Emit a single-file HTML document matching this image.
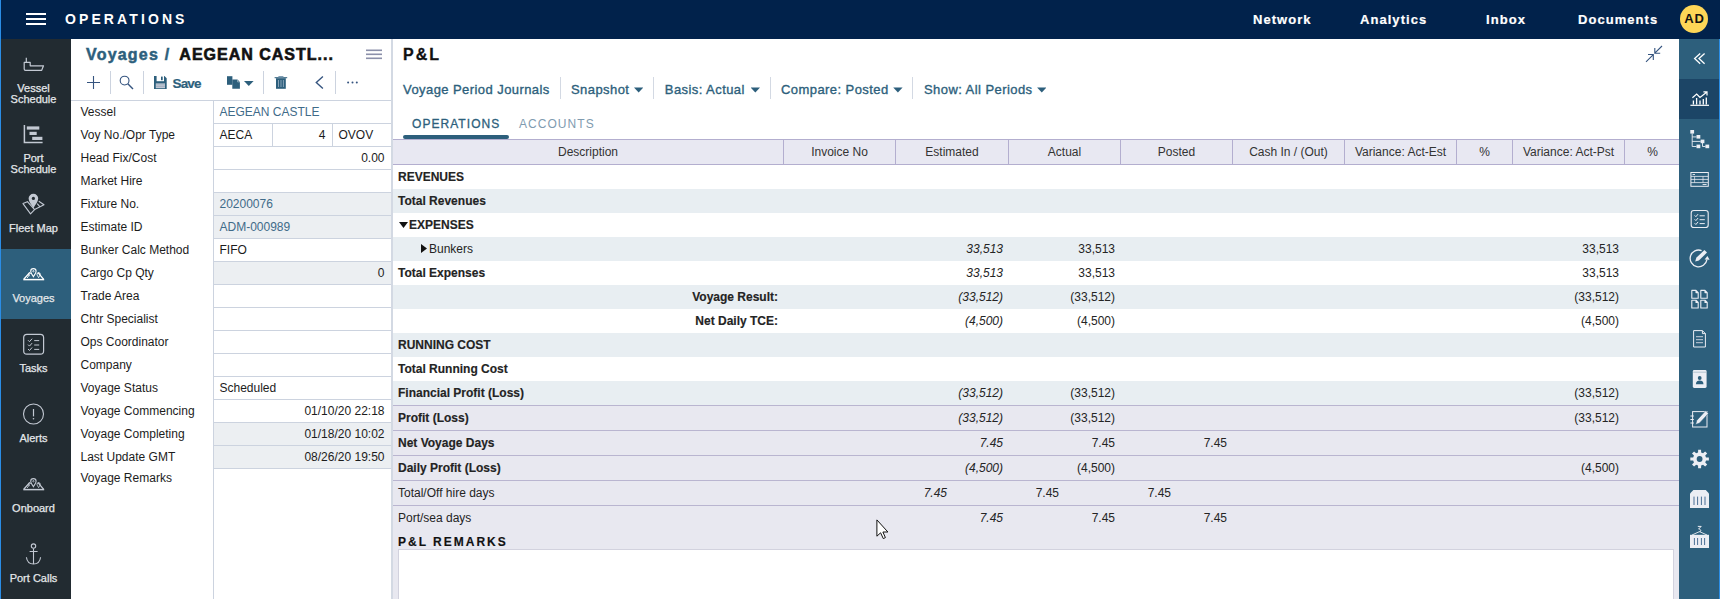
<!DOCTYPE html>
<html lang="en">
<head>
<meta charset="utf-8">
<title>Operations - Voyages</title>
<style>
*{box-sizing:border-box;margin:0;padding:0}
html,body{width:1720px;height:599px;overflow:hidden;background:#fff}
body{font-family:"Liberation Sans",Arial,sans-serif;font-size:12px;color:#1c1c1c;position:relative}
.abs{position:absolute}
/* header */
#hdr{position:absolute;left:0;top:0;width:1720px;height:39px;background:#01224b}
#edge{position:absolute;left:0;top:0;width:1px;height:599px;background:#2a8de6;z-index:5}
#burger i{position:absolute;left:26px;width:20px;height:2px;background:#fff}
#appname{position:absolute;left:65px;top:11px;font-size:14px;font-weight:bold;color:#fff;letter-spacing:3.1px;line-height:16px;white-space:nowrap}
.nav{position:absolute;top:11.5px;font-size:13px;font-weight:bold;color:#fff;letter-spacing:1.05px;-webkit-text-stroke:0.2px #fff;line-height:16px;white-space:nowrap}
#avatar{position:absolute;left:1680px;top:5px;width:28px;height:28px;border-radius:50%;background:#fdd657;color:#111;font-weight:bold;font-size:13px;letter-spacing:0.8px;text-align:center;line-height:28px;padding-left:1px}
/* left sidebar */
#side{position:absolute;left:1px;top:39px;width:70px;height:560px;background:#222b31}
.si{position:absolute;left:0;width:70px;height:70px;color:#e4e7ea;text-align:center;font-size:11px;line-height:11px}
.si.act{background:#2d5f7c}
.si span{position:absolute;left:-5px;width:75px;top:43.5px;z-index:3;display:block;-webkit-text-stroke:0.25px #e4e7ea}
/* left panel */
#lp{position:absolute;left:71px;top:39px;width:321px;height:560px;background:#fff}
#crumb{position:absolute;left:15px;top:6px;font-size:16px;font-weight:bold;line-height:20px;white-space:nowrap;color:#2d5f7c;letter-spacing:1.2px;-webkit-text-stroke:0.5px #2d5f7c}
#crumb b{color:#111;margin-left:9px;letter-spacing:1px;-webkit-text-stroke:0.6px #111}
.frow{position:absolute;left:0;width:321px;height:23px}
.frow label{position:absolute;left:9.5px;top:0;line-height:25px;font-size:12px;color:#1c1c1c;white-space:nowrap}
.fld{position:absolute;top:0;height:24px;border:1px solid #ccd3df;background:#fff;line-height:23px;font-size:12px;padding:0 6.5px 0 5.5px;white-space:nowrap;color:#1c1c1c;overflow:hidden}
.fld.ro{background:#eceff2;color:#3f6b89}
.fld.lk{color:#3f6b89}
.fld.r{text-align:right}
/* right panel */
#rp{position:absolute;left:393px;top:39px;width:1287px;height:560px;background:#fff}
#split{position:absolute;left:391px;top:39px;width:2px;height:560px;background:#d3d9e3}
.tb{position:absolute;top:41.8px;font-size:13px;line-height:18px;color:#2d5f7c;white-space:nowrap;letter-spacing:0.43px;-webkit-text-stroke:0.35px #2d5f7c}
.caret{display:inline-block;width:9.4px;height:5.2px;background:#2d5f7c;clip-path:polygon(0 0,100% 0,50% 100%);margin-left:4.6px;vertical-align:1.2px}
.vsep{position:absolute;top:38px;width:1px;height:22px;background:#d3d9e3}
.tab{position:absolute;top:78px;font-size:12px;line-height:14px;letter-spacing:1.05px;white-space:nowrap}
/* grid */
#gh{position:absolute;left:0;top:100px;width:1287px;height:26px;background:#e8e8f2;border-top:1px solid #b3aecf;border-bottom:1px solid #b3aecf}
.th{position:absolute;top:0;height:24px;line-height:25px;text-align:center;font-size:12px;color:#333;border-right:1px solid #b3aecf}
.gr{position:absolute;left:0;width:1287px;height:24px;line-height:24px;font-size:12px;white-space:nowrap;color:#242424}
.gr.alt{background:#e8eef2}
.gr.ft{background:#e8e8f0;border-top:1px solid #b9b5d0;height:25px;line-height:24px}
.gr b{font-weight:bold;-webkit-text-stroke:0.15px #1c1c1c}
.gr .d{position:absolute;left:5px;top:0}
.gr .c{position:absolute;top:0;text-align:right}
.gr i{font-style:italic}
/* right icon bar */
#rb{position:absolute;left:1679px;top:39px;width:41px;height:560px;background:#2d5f7c}
</style>
</head>
<body>
<div id="hdr">
  <div id="burger"><i style="top:13px"></i><i style="top:18px"></i><i style="top:23px"></i></div>
  <div id="appname">OPERATIONS</div>
  <div class="nav" style="left:1253px">Network</div>
  <div class="nav" style="left:1360px">Analytics</div>
  <div class="nav" style="left:1486px">Inbox</div>
  <div class="nav" style="left:1578px">Documents</div>
  <div id="avatar">AD</div>
</div>
<div id="edge"></div>

<div id="side">
  <svg class="abs" style="left:0;top:0;z-index:2" width="70" height="560" viewBox="1 39 70 560">
    <!-- vessel -->
    <path d="M26.3 57.8V62.4H24.2V69Q24.2 70.3 25.5 70.3H41.7L43.5 65.8H30.2V62.4H26.3" fill="none" stroke="#c3c9d3" stroke-width="1.2" stroke-linejoin="round"/>
    <!-- port schedule -->
    <path d="M24.4 125V142.5H42.6" fill="none" stroke="#c3c9d3" stroke-width="1.5"/>
    <rect x="26.8" y="126.4" width="12.5" height="3.2" fill="#c3c9d3"/><rect x="29.5" y="131.8" width="7.2" height="3.2" fill="#c3c9d3"/><rect x="32.2" y="136.8" width="10.2" height="3.2" fill="#c3c9d3"/>
    <!-- fleet map -->
    <g fill="none" stroke="#c3c9d3" stroke-width="1.1" stroke-linejoin="round">
      <path d="M28 201.4L23 203.6L30.5 213.8L34.6 209.6L44 204.8L38.8 201.2"/>
      <path d="M27.6 201.8L34.6 209.6M37.2 203.6L40 206.8"/>
    </g>
    <path d="M33.4 208.2C31.4 204.6 28.6 201.8 28.6 198.6a4.8 4.8 0 0 1 9.6 0C38.2 201.8 35.4 204.6 33.4 208.2z" fill="#c3c9d3"/>
    <circle cx="33.4" cy="198.4" r="1.6" fill="#222b31"/>
    <!-- voyages -->
    <g transform="translate(0 0.0)" fill="none" stroke="#fff">
      <path d="M23.3 279.6H44.2" stroke-width="1.5"/>
      <path d="M23.8 279.3L29.8 272.4M43.7 279.3L38 272.6" stroke-width="1.3"/>
      <path d="M27.2 278L29.6 274.4" stroke-width="0.9"/>
      <path d="M33.4 276.6C32.2 274.6 30.7 273 30.7 271.3a2.7 2.7 0 0 1 5.4 0C36.1 273 34.6 274.6 33.4 276.6z" stroke-width="1.1"/>
      <circle cx="33.4" cy="271.2" r="0.7" stroke-width="0.8"/>
      <path d="M38.6 277.6C37.8 276.2 37 275.3 37 274.2a1.6 1.6 0 0 1 3.2 0C40.2 275.3 39.4 276.2 38.6 277.6z" stroke-width="0.9"/>
      <path d="M29.6 276.2C29 275.2 28.5 274.7 28.5 274a1.1 1.1 0 0 1 2.2 0" stroke-width="0.8"/>
    </g>
    <!-- tasks -->
    <rect x="23.7" y="334.3" width="19.9" height="19.9" rx="3.2" fill="none" stroke="#c3c9d3" stroke-width="1.2"/>
    <g fill="none" stroke="#c3c9d3" stroke-width="1">
      <path d="M28 340.2l1.5 1.5l2.6-3M28 344.6l1.5 1.5l2.6-3M28 349l1.5 1.5l2.6-3"/>
      <path d="M34.2 340.6h5M34.2 345h5M34.2 349.4h5"/>
    </g>
    <!-- alerts -->
    <circle cx="33.5" cy="414" r="10" fill="none" stroke="#c3c9d3" stroke-width="1.1"/>
    <path d="M33.5 409V416.4" stroke="#c3c9d3" stroke-width="1.2"/><circle cx="33.5" cy="418.7" r="0.8" fill="#c3c9d3"/>
    <!-- onboard -->
    <g transform="translate(0 210.0)" fill="none" stroke="#c3c9d3">
      <path d="M23.3 279.6H44.2" stroke-width="1.5"/>
      <path d="M23.8 279.3L29.8 272.4M43.7 279.3L38 272.6" stroke-width="1.3"/>
      <path d="M27.2 278L29.6 274.4" stroke-width="0.9"/>
      <path d="M33.4 276.6C32.2 274.6 30.7 273 30.7 271.3a2.7 2.7 0 0 1 5.4 0C36.1 273 34.6 274.6 33.4 276.6z" stroke-width="1.1"/>
      <circle cx="33.4" cy="271.2" r="0.7" stroke-width="0.8"/>
      <path d="M38.6 277.6C37.8 276.2 37 275.3 37 274.2a1.6 1.6 0 0 1 3.2 0C40.2 275.3 39.4 276.2 38.6 277.6z" stroke-width="0.9"/>
      <path d="M29.6 276.2C29 275.2 28.5 274.7 28.5 274a1.1 1.1 0 0 1 2.2 0" stroke-width="0.8"/>
    </g>
    <!-- anchor -->
    <g fill="none" stroke="#c3c9d3" stroke-width="1.1">
      <circle cx="33.5" cy="546.1" r="2.2"/>
      <path d="M33.5 548.4V564M29.6 551.5H37.6"/>
      <path d="M26.4 557.2C27 561.6 30 564 33.5 564C37 564 40 561.6 40.6 557.2"/>
    </g>
  </svg>
  <div class="si" style="top:0"><span>Vessel<br>Schedule</span></div>
  <div class="si" style="top:70px"><span>Port<br>Schedule</span></div>
  <div class="si" style="top:140px"><span class="one">Fleet Map</span></div>
  <div class="si act" style="top:210px"><span class="one">Voyages</span></div>
  <div class="si" style="top:280px"><span class="one">Tasks</span></div>
  <div class="si" style="top:350px"><span class="one">Alerts</span></div>
  <div class="si" style="top:420px"><span class="one">Onboard</span></div>
  <div class="si" style="top:490px"><span class="one">Port Calls</span></div>
</div>

<div id="lp">
  <div id="crumb">Voyages /<b>AEGEAN CASTL...</b></div>
  <svg class="abs" style="left:0;top:0" width="321" height="61" viewBox="71 39 321 61">
    <g stroke="#35547f" stroke-width="1.1" fill="none">
      <path d="M87 82.5h13M93.5 76v13"/>
      <circle cx="124.6" cy="80.6" r="4.4"/>
      <path d="M127.8 83.8L133 89" stroke-width="1.4"/>
      <path d="M322.9 76.4L316.3 82.4L322.9 88.4" stroke-width="1.4"/>
    </g>
    <g fill="#ccd3df">
      <rect x="110" y="71" width="1" height="23"/><rect x="143" y="71" width="1" height="23"/>
      <rect x="263" y="71" width="1" height="23"/><rect x="335" y="71" width="1" height="23"/>
    </g>
    <g fill="#8b90aa"><rect x="366" y="49.5" width="16" height="1.6"/><rect x="366" y="53.5" width="16" height="1.6"/><rect x="366" y="57.5" width="16" height="1.6"/></g>
    <!-- floppy -->
    <path d="M154 76h10.4l2.3 2.3V89H154z" fill="#2d5f7c"/>
    <rect x="156.6" y="76" width="7.4" height="5.2" fill="#fff"/>
    <rect x="161" y="76.6" width="1.7" height="3.6" fill="#2d5f7c"/>
    <rect x="155.8" y="83.4" width="9.2" height="4.8" fill="#c3cad6"/>
    <path d="M155.8 84.9h9.2M155.8 86.6h9.2" stroke="#8e9db1" stroke-width="0.6"/>
    <!-- copy -->
    <path d="M227 76.2h5.4v8.6H227z" fill="#2d5f7c"/>
    <path d="M232.3 79.6h5.2l2.4 2.4v6.8h-7.6z" fill="#2d5f7c"/>
    <path d="M237.6 79.4v2.5h2.5" fill="none" stroke="#c9d6df" stroke-width="0.6"/>
    <path d="M244 81h9.6l-4.8 5.1z" fill="#2d5f7c"/>
    <!-- trash -->
    <path d="M276 78.2h9.8v10.6H276z" fill="#2d5f7c"/>
    <rect x="274.6" y="77.2" width="12.6" height="1" fill="#2d5f7c"/>
    <rect x="278.4" y="76" width="5" height="1.4" fill="#7f9db3"/>
    <path d="M278.5 80v7M281 80v7M283.4 80v7" stroke="#9fb5c6" stroke-width="0.8"/>
    <!-- dots -->
    <g fill="#35547f"><circle cx="348.1" cy="82.5" r="1"/><circle cx="352.5" cy="82.5" r="1"/><circle cx="356.8" cy="82.5" r="1"/></g>
  </svg>
  <div class="abs" style="left:101.5px;top:36.7px;font-size:13.5px;font-weight:bold;letter-spacing:-0.85px;-webkit-text-stroke:0.2px #2d5f7c;line-height:16px;color:#2d5f7c">Save</div>
  <div class="abs" style="left:0;top:61px;width:321px;height:1px;background:#ccd3df"></div>
  <div class="frow" style="top:61px"><label>Vessel</label><div class="fld lk" style="left:142px;width:179px">AEGEAN CASTLE</div></div>
  <div class="frow" style="top:84px"><label>Voy No./Opr Type</label><div class="fld" style="left:142px;width:60px">AECA</div><div class="fld r" style="left:201px;width:61px">4</div><div class="fld" style="left:261px;width:60px">OVOV</div></div>
  <div class="frow" style="top:107px"><label>Head Fix/Cost</label><div class="fld r" style="left:142px;width:179px">0.00</div></div>
  <div class="frow" style="top:130px"><label>Market Hire</label><div class="fld" style="left:142px;width:179px"></div></div>
  <div class="frow" style="top:153px"><label>Fixture No.</label><div class="fld ro" style="left:142px;width:179px">20200076</div></div>
  <div class="frow" style="top:176px"><label>Estimate ID</label><div class="fld ro" style="left:142px;width:179px">ADM-000989</div></div>
  <div class="frow" style="top:199px"><label>Bunker Calc Method</label><div class="fld" style="left:142px;width:179px">FIFO</div></div>
  <div class="frow" style="top:222px"><label>Cargo Cp Qty</label><div class="fld ro r" style="left:142px;width:179px;color:#1c1c1c">0</div></div>
  <div class="frow" style="top:245px"><label>Trade Area</label><div class="fld" style="left:142px;width:179px"></div></div>
  <div class="frow" style="top:268px"><label>Chtr Specialist</label><div class="fld" style="left:142px;width:179px"></div></div>
  <div class="frow" style="top:291px"><label>Ops Coordinator</label><div class="fld" style="left:142px;width:179px"></div></div>
  <div class="frow" style="top:314px"><label>Company</label><div class="fld" style="left:142px;width:179px"></div></div>
  <div class="frow" style="top:337px"><label>Voyage Status</label><div class="fld" style="left:142px;width:179px">Scheduled</div></div>
  <div class="frow" style="top:360px"><label>Voyage Commencing</label><div class="fld r" style="left:142px;width:179px">01/10/20 22:18</div></div>
  <div class="frow" style="top:383px"><label>Voyage Completing</label><div class="fld ro r" style="left:142px;width:179px;color:#1c1c1c">01/18/20 10:02</div></div>
  <div class="frow" style="top:406px"><label>Last Update GMT</label><div class="fld ro r" style="left:142px;width:179px;color:#1c1c1c">08/26/20 19:50</div></div>
  <div class="frow" style="top:429px"><label style="line-height:20px">Voyage Remarks</label><div class="fld" style="left:142px;width:179px;height:140px"></div></div>
</div>
<div id="split"></div>

<div id="rp">
  <div class="abs" style="left:10px;top:6px;font-size:16px;font-weight:bold;line-height:20px;color:#111;letter-spacing:2px;-webkit-text-stroke:0.3px #111">P&amp;L</div>
  <div class="tb" style="left:10px">Voyage Period Journals</div>
  <div class="vsep" style="left:167px"></div>
  <div class="tb" style="left:178px">Snapshot<span class="caret"></span></div>
  <div class="vsep" style="left:260px"></div>
  <div class="tb" style="left:271.8px">Basis: Actual<span class="caret" style="margin-left:5.8px"></span></div>
  <div class="vsep" style="left:377px"></div>
  <div class="tb" style="left:388px">Compare: Posted<span class="caret"></span></div>
  <div class="vsep" style="left:519px"></div>
  <div class="tb" style="left:531px">Show: All Periods<span class="caret"></span></div>
  <div class="tab" style="left:19px;color:#2d5f7c;-webkit-text-stroke:0.3px #2d5f7c">OPERATIONS</div>
  <div class="tab" style="left:126px;color:#7f9bb0">ACCOUNTS</div>
  <div class="abs" style="left:10px;top:96px;width:106px;height:4px;background:#2d5f7c;border-radius:2px"></div>
  <svg class="abs" style="left:1240px;top:0" width="40" height="30" viewBox="1633 39 40 30"><g fill="none" stroke="#35547f" stroke-width="1.1"><path d="M1662 46L1654.8 53.2M1654.8 48V53.3H1660.2"/><path d="M1646 61.8L1653.3 54.6M1648 54.5H1653.3V60"/></g></svg>
  <svg class="abs" style="left:482.6px;top:480.4px;z-index:9" width="14" height="21" viewBox="0 0 14 21"><path d="M0.9 0.9V17.2L4.6 13.8L7.3 19.6L9.4 18.6L6.9 13H11.9Z" fill="#fff" stroke="#111" stroke-width="1" stroke-linejoin="miter"/></svg>
  <div id="gh"><div class="th" style="left:0px;width:391px">Description</div><div class="th" style="left:391px;width:112px">Invoice No</div><div class="th" style="left:503px;width:113px">Estimated</div><div class="th" style="left:616px;width:112px">Actual</div><div class="th" style="left:728px;width:112px">Posted</div><div class="th" style="left:840px;width:112px">Cash In / (Out)</div><div class="th" style="left:952px;width:112px">Variance: Act-Est</div><div class="th" style="left:1064px;width:56px">%</div><div class="th" style="left:1120px;width:112px">Variance: Act-Pst</div><div class="th" style="left:1232px;width:55px;border-right:0">%</div></div>
  <div class="gr " style="top:126px"><b class="d">REVENUES</b></div>
  <div class="gr alt" style="top:150px"><b class="d">Total Revenues</b></div>
  <div class="gr " style="top:174px"><svg class="tri" width="9" height="6" viewBox="0 0 9 6" style="position:absolute;left:6px;top:9px"><path d="M0 0h9L4.5 6z" fill="#111"/></svg><b class="d" style="left:16px">EXPENSES</b></div>
  <div class="gr alt" style="top:198px"><svg class="tri" width="6" height="9" viewBox="0 0 6 9" style="position:absolute;left:28px;top:7px"><path d="M0 0v9L6 4.5z" fill="#111"/></svg><span class="d" style="left:36px">Bunkers</span><span class="c" style="right:677px"><i>33,513</i></span><span class="c" style="right:565px">33,513</span><span class="c" style="right:61px">33,513</span></div>
  <div class="gr " style="top:222px"><b class="d">Total Expenses</b><span class="c" style="right:677px"><i>33,513</i></span><span class="c" style="right:565px">33,513</span><span class="c" style="right:61px">33,513</span></div>
  <div class="gr alt" style="top:246px"><b class="c" style="right:902px">Voyage Result:</b><span class="c" style="right:677px"><i>(33,512)</i></span><span class="c" style="right:565px">(33,512)</span><span class="c" style="right:61px">(33,512)</span></div>
  <div class="gr " style="top:270px"><b class="c" style="right:902px">Net Daily TCE:</b><span class="c" style="right:677px"><i>(4,500)</i></span><span class="c" style="right:565px">(4,500)</span><span class="c" style="right:61px">(4,500)</span></div>
  <div class="gr alt" style="top:294px"><b class="d">RUNNING COST</b></div>
  <div class="gr " style="top:318px"><b class="d">Total Running Cost</b></div>
  <div class="gr alt" style="top:342px"><b class="d">Financial Profit (Loss)</b><span class="c" style="right:677px"><i>(33,512)</i></span><span class="c" style="right:565px">(33,512)</span><span class="c" style="right:61px">(33,512)</span></div>
  <div class="gr ft" style="top:366px"><b class="d">Profit (Loss)</b><span class="c" style="right:677px"><i>(33,512)</i></span><span class="c" style="right:565px">(33,512)</span><span class="c" style="right:61px">(33,512)</span></div>
  <div class="gr ft" style="top:391px"><b class="d">Net Voyage Days</b><span class="c" style="right:677px"><i>7.45</i></span><span class="c" style="right:565px">7.45</span><span class="c" style="right:453px">7.45</span></div>
  <div class="gr ft" style="top:416px"><b class="d">Daily Profit (Loss)</b><span class="c" style="right:677px"><i>(4,500)</i></span><span class="c" style="right:565px">(4,500)</span><span class="c" style="right:61px">(4,500)</span></div>
  <div class="gr ft" style="top:441px"><span class="d">Total/Off hire days</span><span class="c" style="right:733px"><i>7.45</i></span><span class="c" style="right:621px">7.45</span><span class="c" style="right:509px">7.45</span></div>
  <div class="gr ft" style="top:466px"><span class="d">Port/sea days</span><span class="c" style="right:677px"><i>7.45</i></span><span class="c" style="right:565px">7.45</span><span class="c" style="right:453px">7.45</span></div>
  <div class="abs" style="left:0;top:491px;width:1287px;height:69px;background:#e8e8f0"></div>
  <div class="abs" style="left:5px;top:496px;font-size:12px;font-weight:bold;letter-spacing:2px;line-height:14px;color:#111;white-space:nowrap;-webkit-text-stroke:0.15px #111">P&amp;L REMARKS</div>
  <div class="abs" style="left:5px;top:510px;width:1276px;height:60px;background:#fff;border:1px solid #d2d2de"></div>
</div>

<div id="rb">
  <svg class="abs" style="left:0;top:0" width="41" height="560" viewBox="1679 39 41 560">
    <rect x="1679" y="79" width="41" height="40" fill="#1c4566"/>
    <rect x="1719" y="39" width="1" height="560" fill="#2a8de6"/>
    <!-- collapse -->
    <path d="M1700.2 53.4L1694.6 58.6L1700.2 63.8M1704.6 53.4L1699 58.6L1704.6 63.8" fill="none" stroke="#fff" stroke-width="1.3"/>
    <!-- chart -->
    <g fill="none" stroke="#fff">
      <path d="M1690.4 105.3H1709" stroke-width="1.2"/>
      <path d="M1692.4 97.8L1696.7 94L1700 97.4L1706.6 92.2M1703.4 91.8H1707V95.4" stroke-width="1.2"/>
      <path d="M1693.4 104.5V100.5M1696.6 104.5V98M1700 104.5V100.5M1703.3 104.5V99M1706.3 104.5V97.5" stroke-width="1.3"/>
    </g>
    <!-- tree -->
    <g fill="#eceef4">
      <rect x="1690.3" y="130" width="3.8" height="3.6"/><rect x="1696.5" y="135" width="3.8" height="3.6"/><rect x="1700.6" y="139.6" width="3.8" height="3.6"/><rect x="1696.5" y="144.6" width="3.8" height="3.6"/><rect x="1705.4" y="144.6" width="3.8" height="3.6"/>
    </g>
    <path d="M1692.2 133.5V146.5H1696.5M1692.2 136.9H1696.5M1692.2 141.4H1700.6M1702.5 143V146.5H1705.5" fill="none" stroke="#eceef4" stroke-width="0.9"/>
    <!-- table -->
    <g fill="none" stroke="#eceef4">
      <rect x="1690.9" y="172.5" width="17.4" height="13.8" stroke-width="1"/>
      <path d="M1691 176.4H1708M1691 179.4H1708M1691 182.6H1708" stroke-width="0.8"/>
      <path d="M1694.6 176.4V182.6M1703 176.4V182.6" stroke-width="0.7"/>
      <path d="M1692.6 174.5H1695M1702.6 184.5H1706.6" stroke-width="0.9"/>
    </g>
    <!-- checklist -->
    <rect x="1691.2" y="210.5" width="17" height="17" rx="2.6" fill="none" stroke="#eceef4" stroke-width="1.1"/>
    <g fill="none" stroke="#eceef4" stroke-width="1">
      <path d="M1694.6 215.4l1.3 1.3l2.2-2.6M1694.6 219.3l1.3 1.3l2.2-2.6M1694.6 223.2l1.3 1.3l2.2-2.6"/>
      <path d="M1699.6 215.8h5.2M1699.6 219.7h5.2M1699.6 223.6h5.2"/>
    </g>
    <!-- circle arrow pencil -->
    <path d="M1701.6 250.6A8.4 8.4 0 1 0 1706.9 259.6" fill="none" stroke="#eceef4" stroke-width="1.3"/>
    <path d="M1704.6 259.4L1707.4 256L1709.6 259.8z" fill="#eceef4"/>
    <path d="M1695.2 261.6L1696.3 257.8L1704.4 250L1707 252.6L1698.9 260.5z" fill="#eceef4"/>
    <!-- four docs -->
    <path d="M1691.8 290.4h4.2l2.2 2.2v5.6h-6.4z M1696.0 290.4v2.2h2.2" fill="none" stroke="#eceef4" stroke-width="1.1" stroke-linejoin="round"/><path d="M1700.8 290.4h4.2l2.2 2.2v5.6h-6.4z M1705.0 290.4v2.2h2.2" fill="none" stroke="#eceef4" stroke-width="1.1" stroke-linejoin="round"/><path d="M1691.8 300.2h4.2l2.2 2.2v5.6h-6.4z M1696.0 300.2v2.2h2.2" fill="none" stroke="#eceef4" stroke-width="1.1" stroke-linejoin="round"/><path d="M1700.8 300.2h4.2l2.2 2.2v5.6h-6.4z M1705.0 300.2v2.2h2.2" fill="none" stroke="#eceef4" stroke-width="1.1" stroke-linejoin="round"/>
    <!-- doc -->
    <path d="M1693.6 330.6h8.8l3 3v13.399999999999999h-11.8z M1702.3999999999999 330.6v3h3" fill="none" stroke="#eceef4" stroke-width="1" stroke-linejoin="round"/>
    <path d="M1696 336.6h7M1696 339.6h7M1696 342.6h7" stroke="#aab9c8" stroke-width="1.1"/>
    <!-- contact -->
    <rect x="1692.8" y="370" width="13.8" height="18" rx="1.4" fill="#eceef4"/>
    <path d="M1693.2 372.2h13" stroke="#8ea7b8" stroke-width="0.6"/>
    <circle cx="1699.7" cy="378" r="1.9" fill="#2d5f7c"/>
    <path d="M1695.9 384.2c0-2.6 1.8-3.6 3.8-3.6s3.8 1 3.8 3.6z" fill="#2d5f7c"/>
    <!-- notebook -->
    <rect x="1692.6" y="411.6" width="14.4" height="15.4" fill="none" stroke="#eceef4" stroke-width="1"/>
    <path d="M1690.4 416h3.4M1690.4 419.5h3.4M1690.4 423h3.4" stroke="#eceef4" stroke-width="1.1"/>
    <path d="M1695.6 424.6L1696.8 420.4L1705.6 410.8L1708.4 413.4L1699.6 423z" fill="#eceef4" stroke="#2d5f7c" stroke-width="0.5"/>
    <!-- gear -->
    <path d="M1708.88 457.53 L1708.88 460.47 L1706.02 460.54 L1705.23 462.45 L1707.20 464.53 L1705.13 466.60 L1703.05 464.63 L1701.14 465.42 L1701.07 468.28 L1698.13 468.28 L1698.06 465.42 L1696.15 464.63 L1694.07 466.60 L1692.00 464.53 L1693.97 462.45 L1693.18 460.54 L1690.32 460.47 L1690.32 457.53 L1693.18 457.46 L1693.97 455.55 L1692.00 453.47 L1694.07 451.40 L1696.15 453.37 L1698.06 452.58 L1698.13 449.72 L1701.07 449.72 L1701.14 452.58 L1703.05 453.37 L1705.13 451.40 L1707.20 453.47 L1705.23 455.55 L1706.02 457.46z" fill="#eceef4"/>
    <circle cx="1699.6" cy="459" r="2.9" fill="#2d5f7c"/>
    <!-- container -->
    <path d="M1693.4 490h12.4l3.2 3.4V508h-19V493.4z" fill="#eceef4"/>
    <path d="M1694 496.6V505M1697.6 496.6V505M1701.4 496.6V505M1705 496.6V505" stroke="#4a6f95" stroke-width="1"/>
    <!-- container hook -->
    <rect x="1690" y="534.8" width="19" height="13.2" fill="#eceef4"/>
    <path d="M1694.4 538V545M1697.6 538V545M1701.4 538V545M1704.6 538V545" stroke="#4a6f95" stroke-width="1"/>
    <path d="M1692 535L1699.5 531.6L1707 535" fill="none" stroke="#eceef4" stroke-width="0.9"/>
    <path d="M1697.8 526.4H1701.2L1698.6 529C1701 529 1701.6 531.6 1699.5 531.8" fill="none" stroke="#eceef4" stroke-width="1"/>
  </svg>
</div>
</body>
</html>
